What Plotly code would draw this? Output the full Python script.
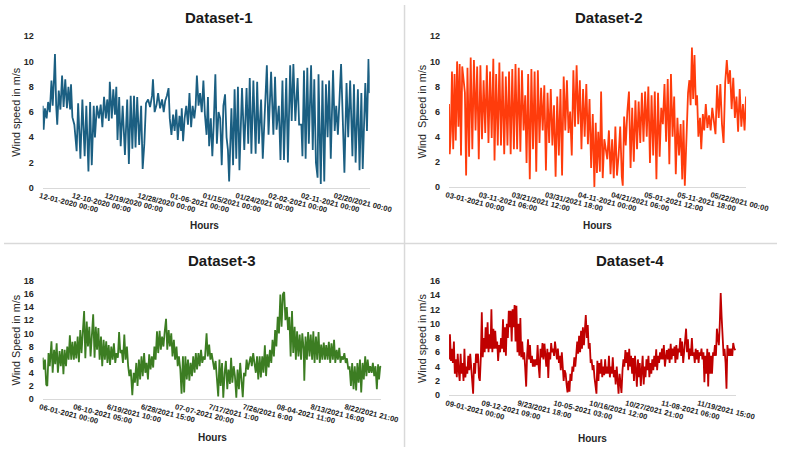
import plotly.graph_objects as go

# ---------------- DATA ----------------
d1_ticks = ["12-01-2020 00:00", "12-10-2020 00:00", "12/19/2020 00:00", "12/28/2020 00:00",
            "01-06-2021 00:00", "01/15/2021 00:00", "01/24/2021 00:00", "02-02-2021 00:00",
            "02-11-2021 00:00", "02/20/2021 00:00"]
d1_hours = [0, 6, 15, 26, 36, 47, 58, 66, 75, 81, 89, 96, 106, 117, 128, 138, 149, 160, 170, 181,
            187, 196, 209, 224, 234, 249, 262, 277, 288, 302, 313, 324, 337, 345, 358, 371, 383, 394,
            405, 417, 426, 437, 443, 456, 466, 477, 486, 494, 505, 515, 528, 543, 558, 569, 581, 592,
            603, 613, 624, 637, 650, 660, 671, 682, 696, 709, 722, 728, 739, 752, 762, 775, 788, 799,
            809, 820, 831, 839, 850, 861, 871, 882, 892, 903, 914, 918, 927, 937, 948, 959, 969, 980,
            990, 1001, 1010, 1018, 1029, 1039, 1050, 1061, 1071, 1082, 1091, 1099, 1110, 1120, 1129,
            1140, 1150, 1161, 1172, 1182, 1193, 1204, 1214, 1223, 1231, 1246, 1257, 1267, 1278, 1289,
            1299, 1316, 1331, 1346, 1357, 1367, 1378, 1391, 1406, 1416, 1427, 1442, 1453, 1470, 1480,
            1491, 1508, 1523, 1534, 1544, 1559, 1570, 1583, 1593, 1608, 1619, 1634, 1644, 1655, 1668,
            1683, 1693, 1708, 1715, 1725, 1736, 1747, 1757, 1772, 1783, 1793, 1804, 1815, 1821, 1836,
            1847, 1859, 1870, 1881, 1891, 1902, 1917, 1928, 1938, 1949, 1970, 1981, 1992, 2006, 2017,
            2030, 2045, 2055, 2066, 2081, 2092, 2104, 2113, 2130, 2141, 2151, 2159]
d1_speed = [6.5, 4.6, 6.3, 5.5, 6.8, 6.0, 8.5, 6.5, 8.7, 10.6, 6.5, 5.0, 7.7, 6.2, 8.9, 6.4, 8.6, 6.3,
            8.0, 6.2, 8.2, 5.6, 5.0, 2.9, 6.7, 2.3, 7.0, 2.5, 6.5, 1.3, 6.8, 1.8, 6.5, 4.0, 6.5, 5.5,
            6.6, 4.8, 7.2, 5.5, 7.0, 5.3, 8.4, 5.5, 7.8, 5.8, 8.0, 3.8, 7.2, 3.3, 6.5, 2.6, 7.0, 1.9,
            7.3, 3.1, 7.3, 3.2, 7.2, 3.4, 6.5, 1.5, 3.5, 6.7, 7.0, 6.4, 7.3, 8.6, 6.0, 6.6, 7.5, 6.3,
            7.0, 6.0, 6.9, 7.3, 7.9, 5.5, 4.2, 5.8, 4.5, 6.2, 3.8, 5.7, 4.5, 6.3, 3.7, 5.5, 6.5, 5.0,
            7.5, 4.8, 6.5, 5.5, 6.5, 8.9, 6.5, 7.5, 6.0, 8.5, 5.8, 4.2, 7.2, 3.3, 5.5, 2.5, 5.0, 9.0,
            3.5, 6.0, 5.5, 1.8, 6.5, 7.4, 4.0, 3.0, 0.5, 6.3, 1.8, 7.8, 2.3, 8.0, 1.4, 7.9, 3.0, 7.9,
            3.5, 8.7, 2.7, 8.5, 2.7, 8.4, 3.5, 7.0, 2.3, 7.4, 9.7, 4.2, 9.2, 4.2, 8.8, 4.6, 6.5, 2.2,
            8.5, 2.2, 8.7, 2.0, 9.7, 5.3, 9.8, 5.3, 8.7, 5.0, 5.0, 2.5, 9.3, 2.3, 9.5, 3.5, 9.7, 3.0,
            8.6, 2.0, 0.8, 9.0, 0.3, 8.5, 0.5, 8.2, 4.0, 8.5, 2.3, 9.3, 4.5, 6.5, 4.2, 9.8, 5.5, 1.2,
            8.3, 4.0, 8.5, 2.5, 8.2, 2.0, 7.8, 1.4, 7.5, 1.5, 8.3, 4.5, 10.2, 7.5]

d2_ticks = ["03-01-2021 00:00", "03-11-2021 06:00", "03/21/2021 12:00", "03/31/2021 18:00",
            "04-11-2021 00:00", "04/21/2021 06:00", "05-01-2021 12:00", "05-11-2021 18:00",
            "05/22/2021 00:00"]
d2_hours = [0, 5, 14, 22, 31, 41, 50, 60, 70, 79, 89, 98, 118, 127, 137, 149, 161, 173, 185, 197, 209,
            221, 233, 245, 257, 269, 281, 293, 305, 317, 329, 338, 350, 362, 374, 386, 398, 410, 422,
            434, 446, 458, 470, 482, 494, 506, 518, 530, 542, 554, 566, 576, 588, 600, 612, 624, 636,
            648, 660, 672, 684, 696, 708, 720, 732, 744, 756, 768, 780, 792, 804, 816, 828, 840, 852,
            864, 876, 888, 900, 912, 924, 936, 948, 960, 972, 984, 996, 1008, 1020, 1032, 1044, 1056,
            1068, 1080, 1090, 1099, 1109, 1121, 1130, 1142, 1154, 1176, 1188, 1200, 1212, 1224, 1236,
            1248, 1260, 1272, 1284, 1291, 1301, 1313, 1325, 1337, 1349, 1361, 1373, 1385, 1397, 1409,
            1421, 1433, 1445, 1457, 1469, 1481, 1493, 1505, 1517, 1529, 1541, 1553, 1565, 1577, 1589,
            1601, 1613, 1625, 1637, 1649, 1661, 1673, 1685, 1697, 1709, 1721, 1733, 1742, 1752, 1764,
            1776, 1786, 1795, 1805, 1814, 1824, 1834, 1843, 1853, 1865, 1874, 1886, 1896, 1908, 1920,
            1932, 1944, 1956, 1968, 1980, 1992, 2004, 2016, 2028, 2040, 2052, 2064, 2076, 2088, 2100,
            2112, 2124, 2136, 2148, 2160, 2172, 2184, 2196, 2207]
d2_speed = [6.6, 2.6, 4.5, 9.2, 3.0, 9.0, 3.7, 10.0, 4.8, 9.8, 2.5, 9.6, 7.5, 0.9, 9.5, 2.4, 10.3, 3.0,
            10.1, 4.5, 9.6, 2.2, 9.7, 3.8, 8.5, 4.3, 9.7, 3.5, 9.2, 3.9, 10.2, 2.1, 9.0, 3.3, 9.9, 3.3,
            9.2, 2.6, 8.8, 3.3, 9.2, 2.6, 9.4, 3.0, 9.8, 3.0, 9.5, 2.8, 9.3, 4.5, 7.3, 1.9, 9.0, 0.6,
            9.4, 3.0, 9.2, 1.2, 9.3, 3.5, 7.9, 4.5, 8.1, 1.3, 7.5, 3.5, 7.8, 3.3, 6.5, 0.8, 7.2, 2.5,
            7.8, 0.9, 8.8, 4.5, 8.5, 4.3, 6.0, 2.5, 9.3, 4.8, 9.7, 5.0, 8.5, 3.0, 7.8, 4.0, 8.2, 3.4,
            7.0, 1.5, 5.8, 0.0, 5.1, 1.1, 4.4, 1.2, 7.6, 0.7, 3.8, 2.2, 4.5, 1.0, 3.8, 0.7, 4.8, 0.9,
            2.5, 4.8, 0.8, 0.1, 5.6, 3.3, 6.0, 7.6, 1.5, 6.3, 2.0, 6.9, 3.0, 6.8, 3.5, 7.5, 3.6, 7.6,
            4.0, 8.0, 1.9, 7.3, 2.5, 7.6, 0.6, 7.5, 2.4, 6.3, 5.0, 8.2, 3.6, 8.6, 1.8, 9.0, 4.0, 7.2,
            1.0, 5.5, 2.5, 5.0, 0.6, 5.3, 0.1, 4.0, 7.5, 8.5, 6.5, 11.1, 7.0, 10.5, 6.5, 7.3, 4.0, 5.5,
            3.0, 5.8, 4.5, 6.6, 4.7, 5.7, 4.5, 6.3, 5.0, 4.2, 8.1, 5.5, 8.2, 5.0, 3.5, 8.3, 10.1, 8.2,
            9.3, 6.2, 8.7, 5.5, 7.2, 4.4, 7.8, 4.8, 6.6, 4.5, 7.2]

d3_ticks = ["06-01-2021 00:00", "06-10-2021 05:00", "6/19/2021 10:00", "6/28/2021 15:00",
            "07-07-2021 20:00", "7/17/2021 1:00", "7/26/2021 6:00", "08-04-2021 11:00",
            "8/13/2021 16:00", "8/22/2021 21:00"]
d3_hours = [0, 6, 15, 23, 30, 38, 46, 57, 65, 74, 82, 91, 99, 110, 118, 127, 135, 143, 152, 160, 169,
            177, 186, 194, 203, 211, 219, 228, 236, 245, 253, 262, 270, 278, 287, 295, 304, 312, 321,
            329, 338, 346, 354, 363, 371, 380, 388, 397, 405, 414, 422, 430, 439, 447, 456, 464, 473,
            481, 490, 498, 506, 515, 523, 532, 540, 549, 557, 565, 574, 584, 593, 601, 610, 618, 627,
            635, 644, 652, 661, 669, 677, 686, 694, 703, 711, 720, 728, 736, 745, 753, 762, 770, 778,
            787, 795, 804, 812, 821, 829, 838, 846, 855, 863, 872, 880, 888, 897, 905, 914, 922, 930,
            939, 947, 956, 964, 973, 981, 990, 998, 1006, 1015, 1023, 1032, 1040, 1049, 1057, 1068,
            1076, 1085, 1093, 1101, 1110, 1118, 1127, 1135, 1144, 1152, 1160, 1169, 1177, 1186, 1194,
            1203, 1211, 1220, 1228, 1236, 1245, 1253, 1262, 1270, 1279, 1287, 1296, 1304, 1312, 1321,
            1329, 1338, 1346, 1355, 1363, 1372, 1380, 1389, 1397, 1405, 1414, 1422, 1431, 1439, 1448,
            1456, 1464, 1473, 1481, 1490, 1498, 1507, 1515, 1523, 1532, 1540, 1549, 1557, 1566, 1574,
            1582, 1591, 1599, 1608, 1616, 1625, 1633, 1642, 1650, 1658, 1667, 1675, 1684, 1692, 1701,
            1705, 1713, 1722, 1730, 1739, 1747, 1756, 1764, 1772, 1781, 1789, 1798, 1806, 1815, 1823,
            1832, 1840, 1848, 1857, 1865, 1874, 1882, 1891, 1899, 1907, 1916, 1924, 1933, 1941, 1949,
            1958, 1966, 1975, 1983, 1992, 2000, 2009, 2017, 2026, 2034, 2043, 2051, 2059, 2068, 2076,
            2085, 2093, 2102, 2110, 2118, 2127, 2135, 2144, 2152, 2161, 2169, 2178, 2186, 2192, 2200,
            2207]
d3_speed = [6.3, 4.5, 6.0, 2.2, 2.0, 7.0, 5.0, 8.8, 4.0, 7.5, 5.3, 8.5, 4.0, 7.3, 5.0, 7.6, 3.8, 7.5,
            5.0, 8.0, 6.0, 9.7, 6.0, 8.7, 6.0, 8.8, 6.2, 9.5, 5.6, 10.5, 7.0, 11.5, 13.4, 6.2, 11.8,
            8.0, 11.0, 6.5, 11.2, 12.9, 6.3, 11.0, 7.5, 10.8, 6.0, 9.5, 5.0, 9.0, 6.0, 8.8, 5.5, 8.2,
            5.2, 8.0, 6.0, 8.5, 5.5, 7.0, 6.3, 10.2, 7.0, 7.5, 5.5, 9.8, 6.0, 8.0, 5.0, 3.5, 4.5, 0.6,
            4.0, 2.5, 5.5, 2.0, 6.0, 3.0, 6.5, 3.5, 7.0, 4.0, 5.5, 3.0, 6.8, 4.5, 6.5, 4.8, 8.0, 6.0,
            10.3, 7.0, 10.4, 7.5, 9.5, 8.0, 10.2, 12.2, 7.5, 10.5, 8.0, 10.0, 6.5, 9.0, 6.0, 8.0, 5.0,
            6.5, 4.5, 0.8, 6.5, 1.0, 6.5, 3.0, 6.0, 2.8, 5.5, 3.5, 6.5, 4.0, 7.0, 4.5, 7.0, 5.0, 7.5,
            5.5, 6.5, 6.0, 10.0, 6.5, 8.3, 6.0, 7.0, 5.5, 4.5, 5.8, 3.0, 0.4, 6.0, 2.0, 5.5, 0.2, 4.0,
            5.8, 1.5, 4.5, 2.3, 6.3, 2.5, 5.0, 3.5, 0.2, 4.5, 1.5, 5.5, 2.0, 0.3, 4.0, 3.5, 6.0, 4.5,
            5.5, 6.5, 5.0, 7.0, 5.5, 4.0, 6.5, 3.0, 6.5, 3.3, 6.5, 4.0, 8.2, 3.5, 6.8, 4.8, 7.5, 5.5,
            9.0, 6.5, 10.5, 8.0, 12.5, 10.0, 15.9, 11.0, 16.0, 16.3, 12.0, 14.0, 10.5, 12.5, 6.5,
            13.4, 7.0, 11.0, 6.0, 10.3, 6.5, 9.8, 6.0, 10.0, 7.5, 2.8, 9.5, 6.0, 10.2, 6.5, 9.8, 6.0,
            10.3, 5.5, 9.5, 6.0, 10.2, 5.5, 8.3, 6.0, 8.6, 6.0, 8.2, 6.0, 8.7, 5.5, 8.5, 6.0, 9.0, 5.5,
            7.5, 6.0, 7.8, 5.5, 6.5, 6.0, 7.0, 5.5, 6.2, 4.5, 5.0, 2.0, 5.5, 1.5, 5.0, 1.3, 5.5, 2.5,
            6.0, 1.0, 5.5, 3.0, 6.5, 3.5, 6.0, 4.0, 5.0, 4.0, 5.5, 3.5, 5.0, 1.5, 5.3, 3.0, 5.0, 4.8]

d4_ticks = ["09-01-2021 00:00", "09-12-2021 09:00", "9/23/2021 18:00", "10-05-2021 03:00",
            "10/16/2021 12:00", "10/27/2021 21:00", "11-08-2021 06:00", "11/19/2021 15:00"]
d4_hours = [0, 7, 15, 22, 29, 37, 44, 51, 59, 66, 73, 81, 88, 95, 102, 110, 117, 124, 132, 139, 146,
            154, 161, 168, 176, 183, 190, 198, 205, 212, 220, 227, 234, 242, 249, 256, 264, 271, 278,
            285, 293, 300, 307, 315, 322, 329, 337, 344, 351, 359, 366, 373, 381, 388, 395, 403, 410,
            417, 425, 432, 439, 447, 454, 461, 468, 476, 483, 490, 498, 505, 512, 520, 527, 534, 542,
            549, 556, 564, 571, 578, 586, 593, 600, 608, 615, 622, 630, 637, 644, 651, 659, 666, 673,
            681, 688, 695, 703, 710, 717, 725, 732, 739, 747, 754, 761, 769, 776, 783, 791, 798, 805,
            813, 820, 827, 835, 842, 849, 857, 864, 871, 878, 886, 893, 900, 908, 915, 922, 930, 937,
            944, 952, 959, 966, 974, 981, 988, 996, 1003, 1010, 1017, 1025, 1032, 1039, 1047, 1054,
            1061, 1069, 1076, 1083, 1091, 1098, 1105, 1113, 1120, 1127, 1135, 1142, 1149, 1157, 1164,
            1171, 1179, 1186, 1193, 1201, 1208, 1215, 1222, 1230, 1237, 1244, 1252, 1259, 1266, 1274,
            1281, 1288, 1296, 1303, 1310, 1318, 1325, 1332, 1340, 1347, 1354, 1361, 1369, 1376, 1383,
            1391, 1398, 1405, 1413, 1420, 1427, 1435, 1442, 1449, 1457, 1464, 1471, 1479, 1486, 1493,
            1500, 1508, 1515, 1522, 1530, 1537, 1544, 1552, 1559, 1566, 1574, 1581, 1588, 1596, 1603,
            1610, 1618, 1625, 1632, 1640, 1647, 1654, 1662, 1669, 1676, 1684, 1691, 1698, 1706, 1713,
            1720, 1727, 1735, 1742, 1749, 1757, 1764, 1771, 1779, 1786, 1793, 1801, 1808, 1815, 1823,
            1830, 1837, 1845, 1852, 1859, 1867, 1874, 1881, 1889, 1896, 1903, 1911, 1918, 1925, 1933,
            1940, 1947, 1955, 1962, 1969, 1976, 1984, 1991, 1998, 2006, 2013, 2020, 2028, 2035, 2042,
            2050, 2057, 2064, 2071, 2079, 2086, 2093, 2101, 2108, 2115, 2123, 2130, 2137, 2145, 2152,
            2159, 2167, 2176]
d4_speed = [5.0, 8.5, 4.8, 6.5, 4.5, 7.5, 3.0, 5.0, 2.5, 5.8, 3.5, 2.0, 5.8, 3.0, 4.5, 2.0, 6.5, 2.5,
            4.0, 3.0, 5.5, 3.5, 5.8, 3.0, 2.0, 0.2, 4.5, 3.0, 5.8, 4.5, 5.8, 2.5, 2.0, 5.5, 11.6, 5.3,
            8.0, 6.0, 9.5, 6.5, 10.2, 6.0, 8.5, 6.5, 12.0, 6.0, 9.3, 6.5, 9.0, 6.5, 7.5, 4.8, 7.0, 6.0,
            8.0, 6.5, 10.6, 6.0, 9.5, 5.5, 10.0, 8.0, 11.8, 9.5, 11.8, 7.5, 12.0, 9.5, 12.6, 7.5, 12.5,
            6.0, 10.0, 5.5, 10.8, 5.3, 7.5, 5.0, 6.0, 4.0, 1.2, 5.5, 7.8, 5.0, 7.0, 4.5, 5.5, 4.0, 5.0,
            4.0, 5.0, 4.2, 7.0, 4.0, 2.4, 6.5, 5.3, 7.3, 5.0, 7.2, 5.5, 4.0, 6.5, 2.4, 6.0, 5.0, 7.3,
            6.0, 6.5, 5.5, 7.5, 6.0, 5.0, 6.5, 4.5, 5.5, 3.5, 6.0, 4.5, 2.0, 3.5, 3.0, 1.5, 0.4, 2.0,
            0.5, 3.0, 2.0, 4.0, 3.3, 5.3, 4.0, 5.5, 7.5, 5.8, 8.3, 6.0, 9.0, 6.5, 9.5, 7.0, 9.0, 11.2,
            8.0, 9.8, 6.5, 7.3, 4.5, 5.0, 3.5, 4.2, 2.5, 1.5, 0.2, 4.8, 2.0, 4.5, 3.0, 5.0, 2.5, 4.0,
            2.8, 5.0, 3.0, 4.0, 3.0, 5.5, 2.5, 4.0, 3.0, 5.3, 2.5, 3.5, 1.5, 4.0, 2.0, 0.2, 3.0, 1.0,
            0.3, 3.5, 5.0, 4.0, 6.3, 4.5, 6.0, 3.5, 6.5, 4.0, 5.5, 3.0, 5.2, 2.0, 5.5, 3.5, 1.2, 5.0,
            2.5, 4.5, 1.3, 3.5, 5.5, 1.5, 4.0, 2.5, 5.0, 3.5, 5.5, 2.5, 4.5, 3.0, 5.0, 3.5, 5.5, 4.0,
            6.4, 3.5, 5.5, 4.5, 6.0, 5.0, 6.5, 5.0, 7.0, 4.0, 5.5, 6.3, 5.0, 6.5, 4.5, 7.2, 5.0, 6.5,
            5.5, 6.8, 4.5, 7.0, 5.0, 6.5, 6.0, 8.0, 5.5, 7.5, 4.5, 6.5, 7.5, 9.3, 6.0, 7.8, 5.0, 6.5,
            5.5, 8.0, 5.5, 6.0, 4.5, 6.5, 5.0, 6.3, 4.5, 6.0, 5.5, 6.5, 5.0, 6.0, 1.8, 5.5, 3.0, 6.5,
            1.2, 6.0, 3.0, 5.5, 3.0, 6.0, 5.5, 7.0, 5.5, 9.3, 8.0, 7.0, 10.0, 14.3, 11.0, 8.0, 5.5,
            6.5, 4.5, 0.9, 7.0, 5.5, 6.5, 5.5, 6.5, 5.5, 7.3, 6.5, 6.3]

panels = [
    dict(name="Dataset-1", hours=d1_hours, speed=d1_speed, ticks=d1_ticks, step=216, end=2159,
         ymax=12, ytitle="Wind speed in m/s", color="#1b5f82"),
    dict(name="Dataset-2", hours=d2_hours, speed=d2_speed, ticks=d2_ticks, step=246, end=2207,
         ymax=12, ytitle="Wind  Speed in m/s", color="#ff3c0c"),
    dict(name="Dataset-3", hours=d3_hours, speed=d3_speed, ticks=d3_ticks, step=221, end=2207,
         ymax=18, ytitle="Wind Speed in m/s", color="#3c7d22"),
    dict(name="Dataset-4", hours=d4_hours, speed=d4_speed, ticks=d4_ticks, step=273, end=2183,
         ymax=16, ytitle="Wind speed in m/s", color="#c00000"),
]

# ---------------- LAYOUT (pixel geometry) ----------------
W, H = 799, 452
# plot-area boxes: left, right, top, bottom (px)
boxes = [(40, 378, 32, 187), (460, 767, 32, 186), (40, 390, 282, 403), (460, 757, 282, 399)]
title_pos = [(222, 13), (625, 13), (225, 261), (647, 261)]
ytitle_x = [12, 432, 12, 432]
hours_pos = [(207, 225), (613, 225), (215, 442), (608, 443)]

FONT = "Liberation Sans, Arial, sans-serif"
fig = go.Figure()
annotations = []
for i, (p, b) in enumerate(zip(panels, boxes)):
    n = "" if i == 0 else str(i + 1)
    fig.add_trace(go.Scatter(x=p["hours"], y=p["speed"], mode="lines",
                             line=dict(color=p["color"], width=1.8),
                             xaxis="x" + n, yaxis="y" + n, showlegend=False))
    l, r, t, bt = b
    tickvals = [k * p["step"] for k in range(len(p["ticks"]))]
    fig.layout["xaxis" + n] = dict(
        domain=[l / W, r / W], range=[0, p["end"]], anchor="y" + n,
        tickvals=tickvals, ticktext=p["ticks"], tickangle=14,
        tickfont=dict(family=FONT, size=7.6, color="#1f1f1f", weight="bold"),
        ticklabelshift=-3, ticklabelstandoff=0,
        showgrid=False, zeroline=False, showline=True, linecolor="#d9d9d9", linewidth=1,
        ticks="", fixedrange=True)
    fig.layout["yaxis" + n] = dict(
        domain=[1 - bt / H, 1 - t / H], range=[0, p["ymax"]], anchor="x" + n,
        dtick=2, tickfont=dict(family=FONT, size=9, color="#262626", weight="bold"),
        showgrid=False, zeroline=False, showline=False, ticks="", ticklabelstandoff=8,
        fixedrange=True)
    tx, ty = title_pos[i]
    annotations.append(dict(text=p["name"], x=tx / W, y=1 - ty / H, xref="paper", yref="paper",
                            showarrow=False, xanchor="center", yanchor="middle",
                            font=dict(family=FONT, size=15, color="#1a1a1a", weight="bold")))
    annotations.append(dict(text=p["ytitle"], x=ytitle_x[i] / W, y=1 - ((t + bt) / 2) / H,
                            xref="paper", yref="paper", showarrow=False, textangle=-90,
                            xanchor="center", yanchor="middle",
                            font=dict(family=FONT, size=10.8, color="#262626")))
    hx, hy = hours_pos[i]
    annotations.append(dict(text="Hours", x=hx / W, y=1 - hy / H, xref="paper", yref="paper",
                            showarrow=False, xanchor="center", yanchor="middle",
                            font=dict(family=FONT, size=10, color="#262626", weight="bold")))

fig.update_layout(
    width=W, height=H, margin=dict(l=0, r=0, t=0, b=0),
    paper_bgcolor="white", plot_bgcolor="white",
    annotations=annotations, hovermode=False,
    shapes=[
        dict(type="line", xref="paper", yref="paper", x0=414 / W, x1=414 / W, y0=0, y1=1,
             line=dict(color="#d9d9d9", width=1.5)),
        dict(type="line", xref="paper", yref="paper", x0=0, x1=1, y0=1 - 244 / H, y1=1 - 244 / H,
             line=dict(color="#d9d9d9", width=1.5)),
    ],
)
fig.write_html("out.html", config={"displayModeBar": False},
               post_script="document.body.style.margin='0';document.body.style.overflow='hidden';")
